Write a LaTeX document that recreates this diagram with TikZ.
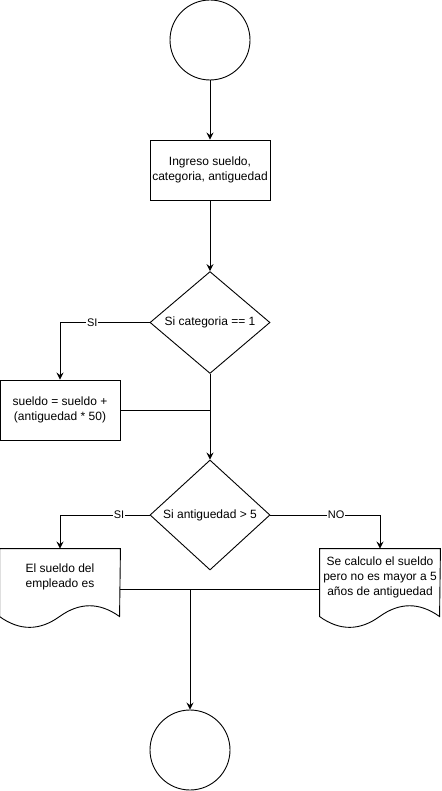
\documentclass[tikz,border=0pt]{standalone}
\usepackage{fontspec}
\setmainfont{Liberation Sans}
\usetikzlibrary{shapes.geometric,arrows.meta}
\tikzstyle{terminal}=[circle,draw,minimum size=80pt,inner sep=0pt]
\tikzstyle{proceso}=[rectangle,draw,minimum width=120pt,minimum height=60pt,inner sep=0pt,align=center]
\tikzstyle{decision}=[diamond,draw,minimum width=120pt,inner sep=0pt,align=center]
\tikzstyle{documento}=[rectangle,minimum width=120pt,minimum height=56pt,inner sep=0pt,align=center]
\tikzstyle{flecha} = [draw,-{Stealth[length=7pt,width=7pt,inset=2.5pt]}]
\tikzstyle{linea} = [draw]
\tikzstyle{etiqueta} = [fill=white,inner sep=1pt,font=\fontsize{11}{13}\selectfont]
% borde de documento con la onda abajo
\newcommand{\bordedoc}[1]{%
  \draw (#1.north west) -- (#1.north east)
    -- ([shift={(120,68)}]#1.north west)
    .. controls ([shift={(100,53.6)}]#1.north west) and ([shift={(80,53.6)}]#1.north west) .. ([shift={(60,68)}]#1.north west)
    .. controls ([shift={(40,82.4)}]#1.north west) and ([shift={(20,82.4)}]#1.north west) .. ([shift={(0,68)}]#1.north west)
    -- cycle;}

\begin{document}
\begin{tikzpicture}[x=1pt,y=-1pt,line width=0.9pt,font=\fontsize{12}{15}\selectfont]
    \useasboundingbox (0,0) rectangle (441,791);
    % inicio y fin
    \foreach \pos/ \name in {{(210,40)/inicio},{(190,750)/fin}}
        \node[terminal] (\name) at \pos {};

    % procesos y decisiones
    \node[proceso] (ingreso) at (210,170) {Ingreso sueldo,\\categoria, antiguedad};
    \node[decision,minimum height=95pt] (cat) at (210,322.5) {Si categoria == 1};
    \node[proceso] (suma) at (60,410) {sueldo = sueldo +\\(antiguedad * 50)};
    \node[decision,minimum height=110pt] (ant) at (210,515) {Si antiguedad > 5};

    % documentos de salida
    \node[documento] (docsi) at (60,577) {El sueldo del\\empleado es};
    \node[documento] (docno) at (380,577) {Se calculo el sueldo\\pero no es mayor a 5\\años de antiguedad};
    \bordedoc{docsi}
    \bordedoc{docno}
    \coordinate (j2) at (190,589);

    % flechas
    \foreach \source/ \dest in {inicio/ingreso, ingreso/cat, cat/ant}
        \path[flecha] (\source) -- (\dest);

    \path[flecha] (cat.west) -| node[etiqueta,pos=0.32] {SI} (suma.north);
    \path[linea] (suma.east) -- (suma.east -| cat.south);

    \path[flecha] (ant.west) -| node[etiqueta,pos=0.17] {SI} (docsi.north);
    \path[flecha] (ant.east) -| node[etiqueta,pos=0.3] {NO} (docno.north);

    \path[linea] (docsi.east |- j2) -- (docno.west |- j2);
    \path[flecha] (j2) -- (fin);
\end{tikzpicture}
\end{document}
